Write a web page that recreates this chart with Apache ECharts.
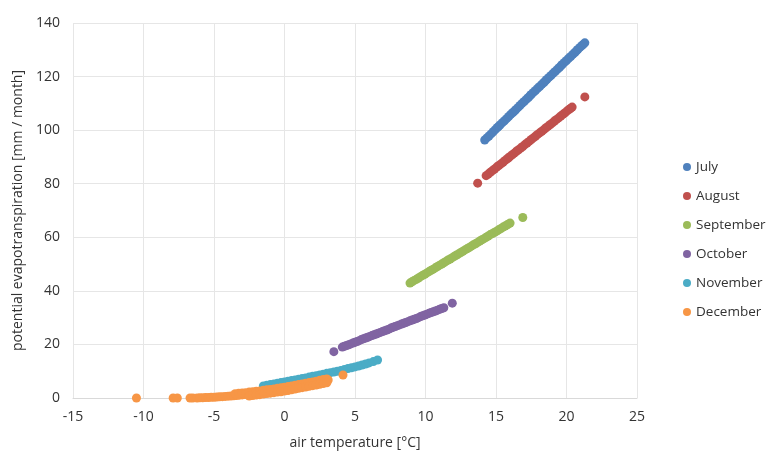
<!DOCTYPE html>
<html><head><meta charset="utf-8">
<script src="https://cdn.jsdelivr.net/npm/echarts@6/dist/echarts.min.js"></script>
<style>html,body{margin:0;padding:0;background:#fff}#c{width:766px;height:451px}</style>
</head><body><div id="c"></div>
<script>
const seriesNames = ['July','August','September','October','November','December'];
const colors = ['#4f81bd','#c0504d','#9bbb59','#8064a2','#4bacc6','#f79646'];
const xTicks = [-15,-10,-5,0,5,10,15,20,25];
const yTicks = [0,20,40,60,80,100,120,140];

const july = [[14.2,96.3],[14.35,97.1],[14.5,97.8],[14.65,98.6],[14.8,99.4],[14.95,100.2],[15.1,101.0],[15.2,101.5],[15.3,102.0],[15.45,102.8],[15.6,103.5],[15.75,104.3],[15.9,105.1],[16.05,105.9],[16.2,106.6],[16.3,107.1],[16.4,107.6],[16.55,108.4],[16.7,109.2],[16.85,110.0],[17.0,110.7],[17.15,111.5],[17.3,112.2],[17.4,112.8],[17.5,113.3],[17.65,114.1],[17.8,114.8],[17.95,115.6],[18.1,116.3],[18.25,117.1],[18.4,117.8],[18.5,118.4],[18.6,118.9],[18.75,119.7],[18.9,120.4],[19.05,121.2],[19.2,121.9],[19.35,122.7],[19.5,123.4],[19.6,124.0],[19.7,124.5],[19.85,125.3],[20.0,126.0],[20.15,126.8],[20.3,127.5],[20.45,128.3],[20.6,129.0],[20.7,129.6],[20.8,130.1],[20.95,130.9],[21.1,131.6],[21.2,132.1],[21.3,132.6]];

const august = [[13.7,80.2],[14.3,83.0],[14.45,83.6],[14.6,84.3],[14.75,84.9],[14.9,85.5],[15.05,86.2],[15.2,86.8],[15.35,87.4],[15.5,88.0],[15.65,88.7],[15.8,89.3],[15.9,89.7],[16.0,90.2],[16.15,90.8],[16.3,91.4],[16.45,92.1],[16.6,92.7],[16.75,93.3],[16.9,93.9],[17.05,94.6],[17.2,95.2],[17.35,95.8],[17.5,96.5],[17.65,97.1],[17.8,97.7],[17.95,98.4],[18.1,99.0],[18.25,99.6],[18.4,100.2],[18.55,100.9],[18.7,101.5],[18.85,102.1],[19.0,102.7],[19.15,103.4],[19.3,104.0],[19.45,104.6],[19.6,105.3],[19.75,105.9],[19.9,106.5],[20.05,107.2],[20.2,107.8],[20.3,108.2],[20.4,108.6],[21.3,112.4]];

const september = [[8.9,42.9],[9.05,43.4],[9.2,43.9],[9.35,44.3],[9.5,44.8],[9.65,45.3],[9.8,45.8],[9.95,46.2],[10.1,46.7],[10.25,47.2],[10.4,47.7],[10.55,48.1],[10.7,48.6],[10.85,49.1],[11.0,49.6],[11.15,50.0],[11.3,50.5],[11.45,51.0],[11.6,51.5],[11.75,51.9],[11.9,52.4],[12.05,52.9],[12.2,53.4],[12.35,53.8],[12.5,54.3],[12.65,54.8],[12.8,55.3],[12.95,55.7],[13.1,56.2],[13.25,56.7],[13.4,57.2],[13.55,57.6],[13.7,58.1],[13.85,58.6],[14.0,59.1],[14.15,59.5],[14.3,60.0],[14.45,60.5],[14.6,61.0],[14.75,61.4],[14.9,61.9],[15.05,62.3],[15.2,62.8],[15.35,63.3],[15.5,63.8],[15.65,64.2],[15.8,64.7],[15.9,65.0],[16.0,65.3],[16.9,67.4]];

const october = [[3.5,17.3],[4.1,19.0],[4.25,19.3],[4.4,19.6],[4.55,19.9],[4.7,20.2],[4.85,20.5],[5.0,20.8],[5.15,21.1],[5.3,21.4],[5.45,21.8],[5.6,22.1],[5.75,22.4],[5.9,22.7],[6.05,23.0],[6.2,23.3],[6.35,23.6],[6.5,23.9],[6.65,24.2],[6.8,24.5],[6.95,24.8],[7.1,25.1],[7.25,25.4],[7.4,25.7],[7.55,26.1],[7.7,26.4],[7.85,26.7],[8.0,27.0],[8.15,27.3],[8.3,27.6],[8.45,27.9],[8.6,28.2],[8.75,28.5],[8.9,28.8],[9.05,29.1],[9.2,29.4],[9.35,29.7],[9.5,30.0],[9.65,30.4],[9.8,30.7],[9.95,31.0],[10.1,31.3],[10.25,31.6],[10.4,31.9],[10.55,32.2],[10.7,32.5],[10.85,32.8],[11.0,33.1],[11.15,33.4],[11.3,33.7],[11.9,35.4]];

const november = [[-1.5,4.5],[-1.25,4.75],[-1.0,5.0],[-0.75,5.25],[-0.5,5.5],[-0.25,5.75],[0.0,6.0],[0.25,6.25],[0.5,6.5],[0.75,6.75],[1.0,7.0],[1.25,7.25],[1.5,7.5],[1.75,7.8],[2.0,8.1],[2.25,8.35],[2.5,8.6],[2.75,8.9],[3.0,9.2],[3.25,9.45],[3.5,9.7],[3.75,10.0],[4.0,10.3],[4.25,10.65],[4.5,11.0],[4.75,11.3],[5.0,11.6],[5.25,11.95],[5.5,12.3],[5.75,12.7],[6.0,13.1],[6.3,13.6],[6.6,14.2]];

const december = [[-10.5,0],[-7.9,0],[-7.6,0],[-6.7,0],[-6.5,0],[-6.2,0],[-6.0,0.05],[-5.8,0.1],[-5.6,0.15],[-5.4,0.2],[-5.2,0.25],[-5.0,0.3],[-4.8,0.35],[-4.6,0.45],[-4.4,0.5],[-4.2,0.6],[-4.0,0.7],[-3.8,0.75],[-3.6,0.85],[-3.4,0.95],[-3.2,1.05],[-3.0,1.15],[-2.8,1.3],[-2.6,1.4],[-2.4,1.55],[-2.2,1.7],[-2.0,1.8],[-1.8,1.95],[-1.6,2.1],[-1.4,2.25],[-1.2,2.4],[-1.0,2.5],[-0.8,2.7],[-0.6,2.85],[-0.4,3.0],[-0.2,3.1],[0.0,3.3],[0.2,3.5],[0.4,3.7],[0.6,3.9],[0.8,4.1],[1.0,4.3],[1.2,4.5],[1.4,4.7],[1.6,4.9],[1.8,5.1],[2.0,5.3],[2.2,5.55],[2.4,5.8],[2.6,6.0],[2.8,6.25],[3.0,6.5],[3.1,6.7],[4.15,8.6],
  [-3.5,1.6],[-3.25,1.75],[-3.0,1.85],[-2.75,2.0],[-2.5,2.2],[-2.25,2.35],[-2.0,2.5],[-1.75,2.65],[-1.5,2.85],[-1.25,3.05],[-1.0,3.2],[-0.75,3.4],[-0.5,3.6],[-0.25,3.8],[0.0,4.0],[0.25,4.25],[0.5,4.5],[0.75,4.75],[1.0,5.0],[1.25,5.25],[1.5,5.5],[1.75,5.75],[2.0,6.0],[2.25,6.3],[2.5,6.6],[2.75,6.9],[3.0,7.1],
  [-2.5,0.75],[-2.25,0.95],[-2.0,1.1],[-1.75,1.25],[-1.5,1.45],[-1.25,1.65],[-1.0,1.8],[-0.75,2.0],[-0.5,2.2],[-0.25,2.35],[0.0,2.6],[0.25,2.8],[0.5,3.1],[0.75,3.35],[1.0,3.6],[1.25,3.85],[1.5,4.1],[1.75,4.35],[2.0,4.6],[2.25,4.85],[2.5,5.1],[2.75,5.4],[3.0,5.7]];

const allData = [july, august, september, october, november, december];

const font = '"Open Sans", Lato, sans-serif';
const chart = echarts.init(document.getElementById('c'), null, {renderer:'canvas'});
chart.setOption({
  animation:false,
  backgroundColor:'#fff',
  textStyle:{fontFamily:font},
  grid:{left:73,right:129,top:23,bottom:53,containLabel:false,outerBoundsMode:'none'},
  legend:{
    orient:'vertical', left:678, top:154,
    itemWidth:8, itemHeight:8, itemGap:13, icon:'circle',
    textStyle:{fontSize:13.5, color:'#333', fontFamily:font, lineHeight:16},
    data:seriesNames
  },
  xAxis:{
    type:'value', min:xTicks[0], max:xTicks[xTicks.length-1], interval:5,
    name:'air temperature [°C]', nameLocation:'middle', nameGap:38,
    nameTextStyle:{fontSize:14,color:'#333',fontFamily:font},
    axisLine:{show:true,lineStyle:{color:'#d9d9d9'}},
    axisTick:{show:false},
    axisLabel:{fontSize:14,color:'#333',margin:12,fontFamily:font},
    splitLine:{show:true,lineStyle:{color:'#e6e6e6'}}
  },
  yAxis:{
    type:'value', min:yTicks[0], max:yTicks[yTicks.length-1], interval:20,
    name:'potential evapotranspiration [mm / month]', nameLocation:'middle', nameGap:44,
    nameTextStyle:{fontSize:14,color:'#333',fontFamily:font},
    axisLine:{show:false},
    axisTick:{show:false},
    axisLabel:{fontSize:14,color:'#333',margin:13,fontFamily:font},
    splitLine:{show:true,lineStyle:{color:'#e6e6e6'}}
  },
  series: seriesNames.map((n,i)=>({
    name:n, type:'scatter', symbol:'circle', symbolSize:9,
    itemStyle:{color:colors[i],opacity:1},
    data: allData[i]
  }))
});
</script></body></html>
